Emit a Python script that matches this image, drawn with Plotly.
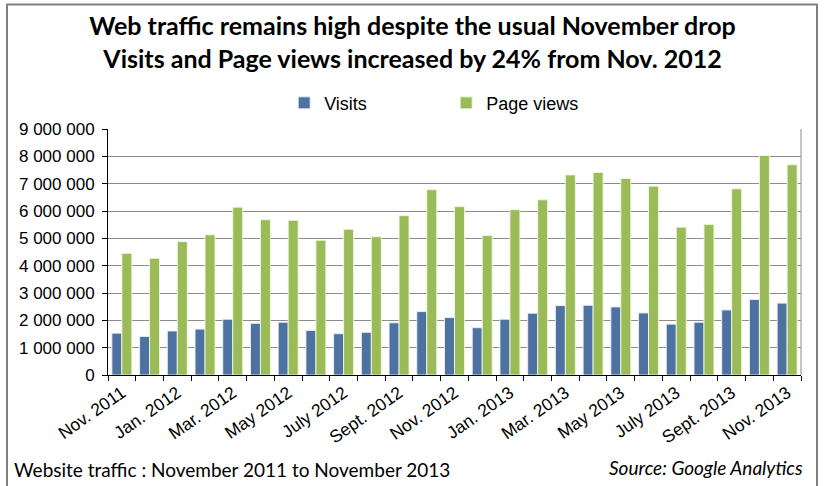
import plotly.graph_objects as go

# monthly figures, Nov. 2011 to Nov. 2013
months = ["Nov. 2011", "Dec. 2011", "Jan. 2012", "Feb. 2012", "Mar. 2012", "Apr. 2012",
          "May 2012", "June 2012", "July 2012", "Aug. 2012", "Sept. 2012", "Oct. 2012",
          "Nov. 2012", "Dec. 2012", "Jan. 2013", "Feb. 2013", "Mar. 2013", "Apr. 2013",
          "May 2013", "June 2013", "July 2013", "Aug. 2013", "Sept. 2013", "Oct. 2013",
          "Nov. 2013"]
visits = [1530000, 1410000, 1610000, 1680000, 2040000, 1890000, 1930000, 1630000,
          1510000, 1560000, 1910000, 2320000, 2100000, 1730000, 2040000, 2260000,
          2540000, 2550000, 2490000, 2270000, 1860000, 1930000, 2380000, 2760000,
          2630000]
page_views = [4450000, 4270000, 4880000, 5130000, 6140000, 5680000, 5660000, 4930000,
              5330000, 5060000, 5830000, 6780000, 6160000, 5100000, 6050000, 6410000,
              7320000, 7410000, 7190000, 6910000, 5410000, 5510000, 6810000, 8030000,
              7690000]
tick_labels = months[::2]
y_ticks = [0, 1000000, 2000000, 3000000, 4000000, 5000000, 6000000, 7000000, 8000000, 9000000]

x = list(range(len(months)))

fig = go.Figure()
fig.add_trace(go.Bar(x=x, y=visits, name="Visits",
                     marker=dict(color="#4d72a2", line=dict(color="rgba(235,240,248,0.9)", width=1))))
fig.add_trace(go.Bar(x=x, y=page_views, name="Page views",
                     marker=dict(color="#9bbb59", line=dict(color="rgba(240,248,225,0.9)", width=1))))

fig.update_layout(
    width=825, height=486,
    margin=dict(l=108, r=24, t=129, b=111),
    paper_bgcolor="white", plot_bgcolor="white",
    separators=". ",
    barmode="group", bargap=0.28, bargroupgap=0,
    font=dict(family="Liberation Sans, Arial", size=16, color="black"),
    title=dict(text="Web traffic remains high despite the usual November drop<br>"
                    "Visits and Page views increased by 24% from Nov. 2012",
               x=0.5, xanchor="center", y=0.927, yanchor="middle",
               font=dict(family="Lato, Open Sans", size=25, color="black", weight="bold")),
    legend=dict(orientation="h", x=0.488, xanchor="center", y=1.105, yanchor="middle",
                font=dict(size=18), entrywidth=117, itemwidth=30, bgcolor="rgba(0,0,0,0)"),
    showlegend=True,
)

fig.update_xaxes(
    range=[-0.5, len(months) - 0.5], automargin=False,
    tickmode="array", tickvals=x[::2], ticktext=tick_labels,
    tickangle=-35, ticks="", showgrid=False,
    showline=True, linecolor="black", linewidth=1,
    tickfont=dict(size=17.5),
    minor=dict(tickmode="linear", tick0=0.5, dtick=1, ticks="outside", ticklen=5,
               tickcolor="black", showgrid=False),
)
fig.update_yaxes(
    range=[0, 9000000], tickvals=y_ticks, tickformat=",d", automargin=False,
    ticks="outside", ticklen=5, tickcolor="black", ticklabelstandoff=4,
    showgrid=True, gridcolor="#8c8c8c", gridwidth=1,
    showline=True, linecolor="black", linewidth=1,
    zeroline=False, tickfont=dict(size=17),
)

# right border of the plot area
fig.add_shape(type="line", xref="paper", yref="paper", x0=1, x1=1, y0=0, y1=1,
              line=dict(color="#8c8c8c", width=1))
# frame round the whole chart
fig.add_shape(type="rect", xref="paper", yref="paper",
              x0=(7 - 108) / 693, x1=(817 - 108) / 693,
              y0=(375 - 495) / 246, y1=(375 - 4.5) / 246,
              line=dict(color="#808080", width=2))

fig.add_annotation(text="Website traffic : November 2011 to November 2013",
                   xref="paper", yref="paper", x=(12 - 108) / 693, y=(375 - 469) / 246,
                   xanchor="left", yanchor="middle", showarrow=False,
                   font=dict(family="Lato, Open Sans", size=19, color="black"))
fig.add_annotation(text="<i>Source: Google Analytics</i>",
                   xref="paper", yref="paper", x=(805 - 108) / 693, y=(375 - 467) / 246,
                   xanchor="right", yanchor="middle", showarrow=False,
                   font=dict(family="Lato, Open Sans", size=19, color="black"))

# drop the default page margin so the chart sits at the window's top-left corner
fig.write_html("out.html", config={"displayModeBar": False},
               post_script="document.body.style.margin='0';")
